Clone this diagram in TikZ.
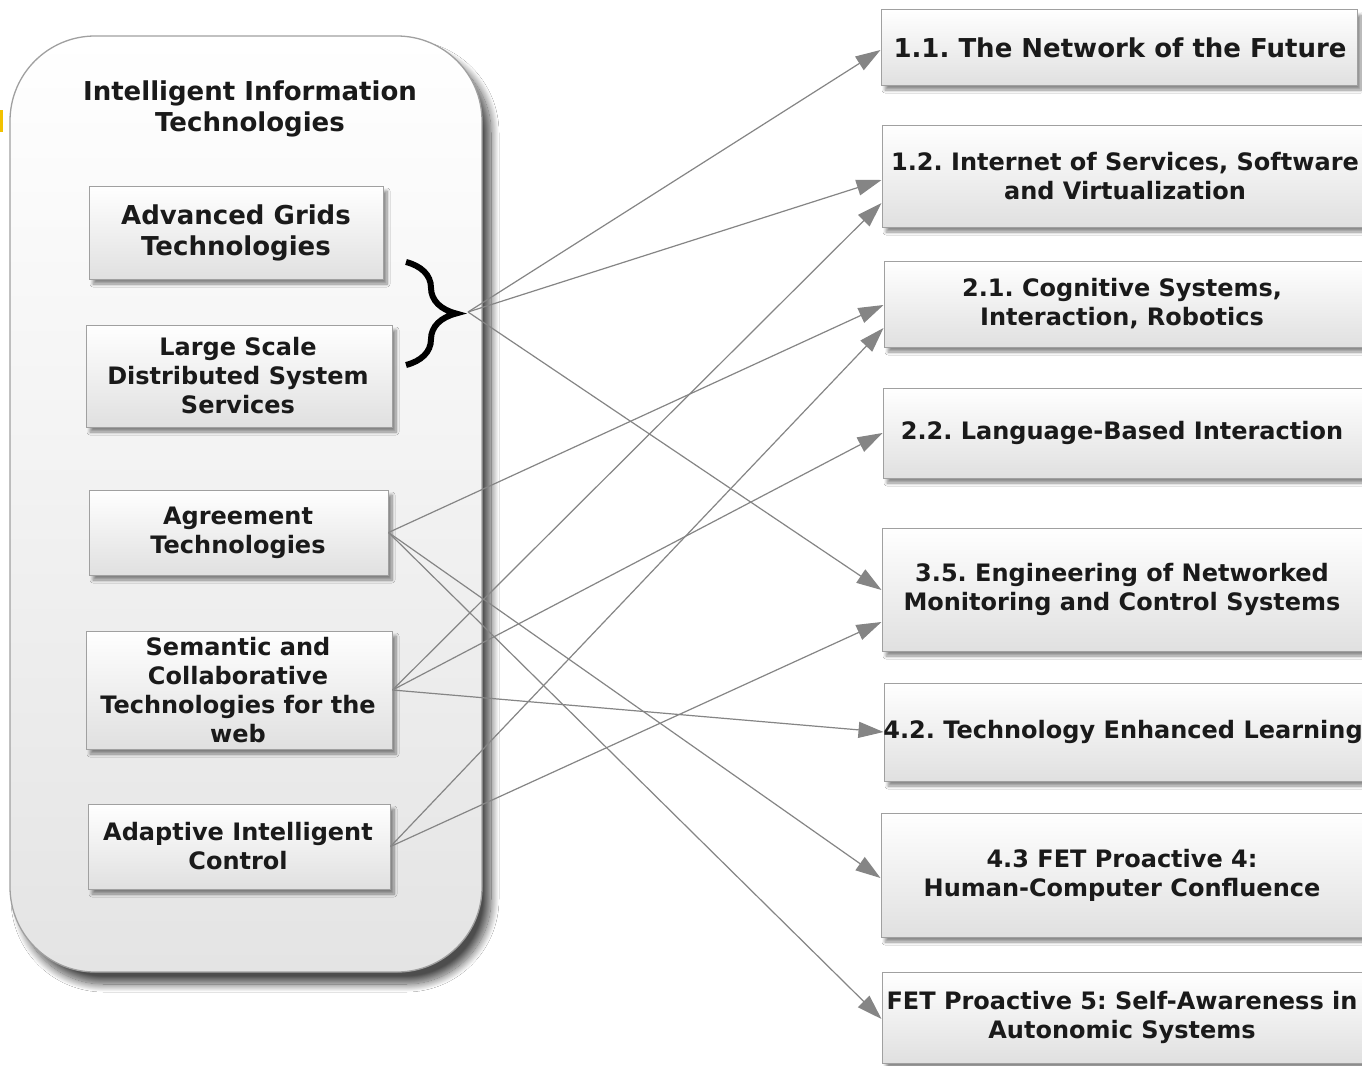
\documentclass[tikz,border=0pt]{standalone}
\usepackage{fontspec}
\setmainfont{DejaVu Sans}
\usetikzlibrary{shadows.blur,arrows.meta,calc,decorations.pathreplacing}
\definecolor{bordergray}{HTML}{A0A0A0}
\definecolor{linegray}{HTML}{858585}
\definecolor{boxbot}{HTML}{E0E0E0}
\definecolor{contbot}{HTML}{E4E4E4}
\definecolor{txtcol}{HTML}{1A1A1A}
\definecolor{marky}{HTML}{F2C200}
\begin{document}
\frenchspacing
\begin{tikzpicture}[x=1pt,y=-1pt,
  box/.style={draw=bordergray, line width=1pt, top color=white, bottom color=boxbot,
    inner sep=0pt, blur shadow={shadow xshift=4pt, shadow yshift=-5pt, shadow blur radius=3pt, shadow blur steps=8, shadow opacity=45}},
  container/.style={draw=bordergray, line width=1.3pt, top color=white, bottom color=contbot,
    rounded corners=85pt, inner sep=0pt,
    blur shadow={shadow xshift=9pt, shadow yshift=-12pt, shadow blur radius=8pt, shadow blur steps=20, shadow opacity=70}},
  txt/.style={font=\fontsize{24}{29}\selectfont\bfseries\frenchspacing, text=txtcol, align=center, inner sep=0pt},
  bigtxt/.style={txt, font=\fontsize{26}{31}\selectfont\bfseries\frenchspacing},
  conn/.style={draw=linegray, line width=1.2pt, -{Triangle[length=25pt,width=16pt]}},
]
\path[fill=white] (0,0) rectangle (1362,1065);
\useasboundingbox (0,0) rectangle (1362,1065);
\fill[marky] (0,110) rectangle (3,132);

% container
\node[container, minimum width=472pt, minimum height=936pt] (cont) at (246,504) {};
\node[bigtxt] (title) at (250,109) {Intelligent Information\\Technologies};

% left boxes
\node[box, minimum width=294pt, minimum height=93pt] (ag) at (236,232.5) {};
\node[bigtxt] at (236,232.5) {Advanced Grids\\Technologies};
\node[box, minimum width=306pt, minimum height=102pt] (ls) at (239,376) {};
\node[txt] at (238,376) {Large Scale\\Distributed System\\Services};
\node[box, minimum width=299pt, minimum height=85pt] (at) at (238.5,532.5) {};
\node[txt] at (238,532.5) {Agreement\\Technologies};
\node[box, minimum width=306pt, minimum height=118pt] (sc) at (239,690) {};
\node[txt] at (238,690) {Semantic and\\Collaborative\\Technologies for the\\web};
\node[box, minimum width=302pt, minimum height=85pt] (aic) at (239,846.5) {};
\node[txt] at (238,846.5) {Adaptive Intelligent\\Control};

% brace
\draw[decorate, decoration={brace, amplitude=50pt}, line width=6pt] (406,262) -- (406,365);
\coordinate (bp) at (468,312);

% right boxes
\node[box, minimum width=476pt, minimum height=75pt] (n11) at (1119,47.5) {};
\node[bigtxt] at (1120,47.5) {1.1. The Network of the Future};
\node[box, minimum width=486pt, minimum height=102pt] (n12) at (1125,176) {};
\node[txt] at (1125,176) {1.2. Internet of Services, Software\\and Virtualization};
\node[box, minimum width=484pt, minimum height=86pt] (n21) at (1126,304) {};
\node[txt] at (1122,304) {2.1. Cognitive Systems,\\Interaction, Robotics};
\node[box, minimum width=485pt, minimum height=90pt] (n22) at (1125.5,433) {};
\node[txt] at (1122,433) {2.2. Language-Based Interaction};
\node[box, minimum width=486pt, minimum height=123pt] (n35) at (1125,589.5) {};
\node[txt] at (1122,589.5) {3.5. Engineering of Networked\\Monitoring and Control Systems};
\node[box, minimum width=484pt, minimum height=98pt] (n42) at (1126,732) {};
\node[txt] at (1123,732) {4.2. Technology Enhanced Learning};
\node[box, minimum width=487pt, minimum height=124pt] (n43) at (1124.5,875) {};
\node[txt] at (1122,875) {4.3 FET Proactive 4:\\Human-Computer Confluence};
\node[box, minimum width=486pt, minimum height=91pt] (n5) at (1125,1017.5) {};
\node[txt] at (1122,1017.5) {FET Proactive 5: Self-Awareness in\\Autonomic Systems};

% connectors
\draw[conn] (bp) -- ($(n11.west)+(0,2.5)$);
\draw[conn] (bp) -- ($(n12.west)+(0,4)$);
\draw[conn] (bp) -- ($(n35.west)+(0,0.5)$);
\draw[conn] (at.east) -- ($(n21.west)+(0,1)$);
\draw[conn] (at.east) -- ($(n43.west)+(0,3)$);
\draw[conn] (at.east) -- ($(n5.west)+(0,1.5)$);
\draw[conn] (sc.east) -- ($(n12.west)+(0,27)$);
\draw[conn] (sc.east) -- (n22.west);
\draw[conn] (sc.east) -- (n42.west);
\draw[conn] (aic.east) -- ($(n21.west)+(0,24)$);
\draw[conn] (aic.east) -- ($(n35.west)+(0,32.5)$);
\end{tikzpicture}
\end{document}
